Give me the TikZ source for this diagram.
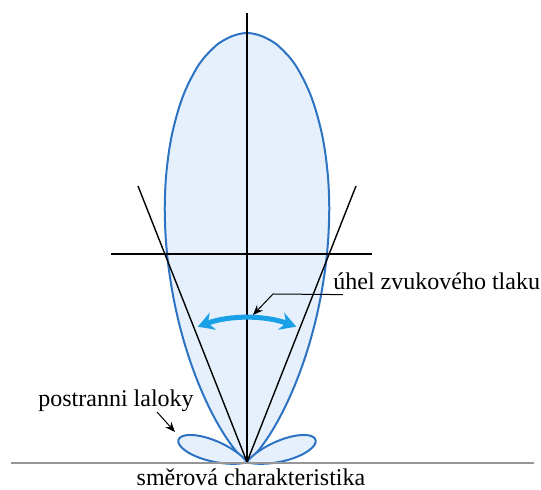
\documentclass[tikz,border=0pt]{standalone}
\usepackage{fontspec}
\setmainfont{Liberation Serif}
\usetikzlibrary{arrows.meta}
\definecolor{lobeblue}{RGB}{45,115,195}
\definecolor{lobefill}{RGB}{230,240,252}
\definecolor{arcblue}{RGB}{25,160,230}
\definecolor{groundgray}{RGB}{150,150,150}
\begin{document}
\begin{tikzpicture}[x=0.5pt,y=0.5pt,
  lbl/.style={font=\fontsize{12}{14}\selectfont, inner sep=0pt},
  axisline/.style={black, line width=0.7pt},
  lobe/.style={draw=lobeblue, fill=lobefill, line width=1pt},
  leader/.style={black, line width=0.5pt, -{Stealth[length=5pt,width=4pt]}},
  bigarc/.style={arcblue, line width=2.5pt, {Stealth[length=8pt,width=9pt]}-{Stealth[length=8pt,width=9pt]}}]
\useasboundingbox (0,0) rectangle (541,490);
\coordinate (O) at (247,28);
% main lobe
\draw[lobe] plot[smooth, domain=-80:80, samples=161]
  ({247+429*pow(cos(\x),9.5)*sin(\x)}, {28+429*pow(cos(\x),9.5)*cos(\x)}) -- cycle;
% side lobes
\draw[lobe] plot[smooth, domain=-30:75, samples=106]
  ({247+72*pow(cos(\x-18),16)*cos(\x)}, {28+72*pow(cos(\x-18),16)*sin(\x)}) -- cycle;
\draw[lobe] plot[smooth, domain=105:210, samples=106]
  ({247+72*pow(cos(\x-162),16)*cos(\x)}, {28+72*pow(cos(\x-162),16)*sin(\x)}) -- cycle;
% ground
\coordinate (gl) at (11,27);
\coordinate (gr) at (534,27);
\draw[groundgray, line width=1pt] (gl) -- (gr);
% axes
\coordinate (vtop) at (247,477);
\coordinate (hl) at (111,236);
\coordinate (hr) at (372,236);
\coordinate (dl) at (138,304);
\coordinate (dr) at (356,304);
\draw[axisline] (O) -- (vtop);
\draw[axisline] (hl) -- (hr);
\draw[axisline] (O) -- (dl);
\draw[axisline] (O) -- (dr);
% angle arc
\coordinate (arcR) at (296.25,163.3);
\draw[bigarc] (arcR) arc[start angle=70, end angle=110, radius=72pt];
% labels
\node[lbl, anchor=base west] (uhel) at (333,200) {úhel zvukového tlaku};
\coordinate (uk) at (273,196);
\coordinate (ut) at (253,175);
\draw[leader] ([xshift=5pt,yshift=-2pt]uhel.south west) -- (uk) -- (ut);
\node[lbl, anchor=base] (post) at (116,83) {postranni laloky};
\coordinate (pa) at (157,78);
\coordinate (pb) at (175,58);
\draw[leader] (pa) -- (pb);
\node[lbl, anchor=base] (smer) at (251,4) {směrová charakteristika};
\end{tikzpicture}
\end{document}
